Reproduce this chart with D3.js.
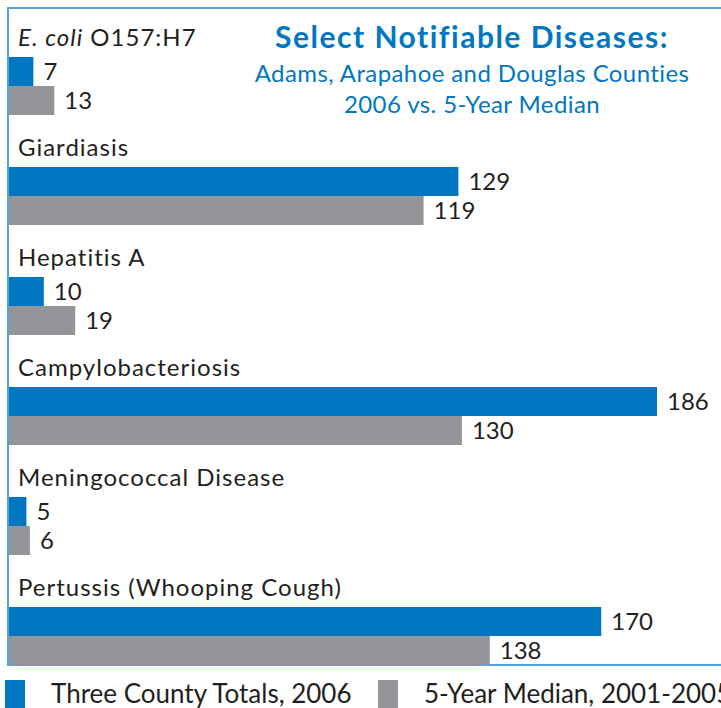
<!DOCTYPE html>
<html>
<head>
<meta charset="utf-8">
<script src="https://cdn.jsdelivr.net/npm/d3@7"></script>
<style>
  body { margin: 0; background: #fff; }
  svg { display: block; font-family: "Lato", "Open Sans", sans-serif; }
</style>
</head>
<body>
<svg id="chart" width="721" height="708"></svg>
<script>
// chart data
const diseases = [
  "E. coli O157:H7",
  "Giardiasis",
  "Hepatitis A",
  "Campylobacteriosis",
  "Meningococcal Disease",
  "Pertussis (Whooping Cough)"
];
const totals2006 = [7, 129, 10, 186, 5, 170];
const median5yr = [13, 119, 19, 130, 6, 138];
const seriesNames = ["Three County Totals, 2006", "5-Year Median, 2001-2005"];

const blue = "#0077c0";
const gray = "#939598";
const frameBlue = "#4fa6df";

const svg = d3.select("#chart");

// frame
svg.append("rect")
  .attr("x", 8).attr("y", 8)
  .attr("width", 730).attr("height", 657)
  .attr("fill", "none")
  .attr("stroke", frameBlue)
  .attr("stroke-width", 2);

const x = d3.scaleLinear().domain([0, 186]).range([9, 657]);
const y = d3.scaleBand().domain(diseases).range([20, 680]).paddingInner(0).paddingOuter(0);
const barH = 29;

const groups = svg.selectAll("g.group")
  .data(diseases)
  .enter()
  .append("g")
  .attr("class", "group")
  .attr("transform", (d) => `translate(0,${y(d)})`);

// category labels
groups.append("text")
  .attr("x", 18)
  .attr("y", 26)
  .attr("font-size", 24)
  .attr("letter-spacing", 1)
  .attr("fill", "#231f20")
  .each(function (d) {
    const t = d3.select(this);
    if (d.startsWith("E. coli")) {
      t.append("tspan").attr("font-style", "italic").text("E. coli");
      t.append("tspan").text(" O157:H7");
    } else {
      t.text(d);
    }
  });

const series = [
  { values: totals2006, color: blue, off: 37 },
  { values: median5yr, color: gray, off: 37 + barH }
];

series.forEach((s) => {
  groups.append("rect")
    .attr("x", x(0))
    .attr("y", s.off)
    .attr("width", (d, i) => x(s.values[i]) - x(0))
    .attr("height", barH)
    .attr("fill", s.color);

  groups.append("text")
    .attr("x", (d, i) => x(s.values[i]) + 10)
    .attr("y", s.off + barH / 2)
    .attr("dy", "0.36em")
    .attr("font-size", 24)
    .attr("fill", "#231f20")
    .text((d, i) => s.values[i]);
});

// title
const title = svg.append("g").attr("text-anchor", "middle").attr("fill", blue);
title.append("text")
  .attr("x", 472).attr("y", 48)
  .attr("font-size", 30).attr("font-weight", "bold")
  .attr("letter-spacing", 1.5)
  .text("Select Notifiable Diseases:");
title.append("text")
  .attr("x", 472).attr("y", 82)
  .attr("font-size", 24)
  .attr("letter-spacing", 0.4)
  .text("Adams, Arapahoe and Douglas Counties");
title.append("text")
  .attr("x", 472).attr("y", 113)
  .attr("font-size", 24)
  .attr("letter-spacing", 0.4)
  .text("2006 vs. 5-Year Median");

// legend
const legend = svg.append("g");
[[5, blue, seriesNames[0]], [378, gray, seriesNames[1]]].forEach(([lx, c, name]) => {
  legend.append("rect")
    .attr("x", lx).attr("y", 680)
    .attr("width", 20).attr("height", 30)
    .attr("fill", c);
  legend.append("text")
    .attr("x", lx + 46).attr("y", 703)
    .attr("font-size", 26)
    .attr("fill", "#231f20")
    .text(name);
});
</script>
</body>
</html>
